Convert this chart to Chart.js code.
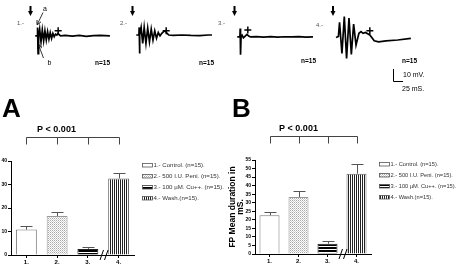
<!DOCTYPE html>
<html>
<head>
<meta charset="utf-8">
<script src="https://cdn.jsdelivr.net/npm/chart.js@4.4.1/dist/chart.umd.min.js"></script>
<style>
  html, body { margin: 0; padding: 0; background: #fff; overflow: hidden; }
  body { width: 458px; height: 267px; position: relative; }
  canvas, svg { position: absolute; }
  svg text { font-family: "Liberation Sans", Arial, sans-serif; }
</style>
</head>
<body>
<canvas id="trace1"></canvas>
<canvas id="trace2"></canvas>
<canvas id="trace3"></canvas>
<canvas id="trace4"></canvas>
<canvas id="chartA" width="228" height="149" style="left:0;top:118px"></canvas>
<canvas id="chartB" width="230" height="149" style="left:228px;top:118px"></canvas>

<svg width="458" height="267" style="left:0;top:0">
  <defs>
    <marker id="head" markerWidth="5" markerHeight="5" refX="4" refY="2.5" orient="auto" markerUnits="userSpaceOnUse">
      <path d="M0,0 L5,2.5 L0,5" fill="none" stroke="#000" stroke-width="0.8"/>
    </marker>
  </defs>
  <!-- stimulus arrows -->
  <g fill="#000">
    <polygon points="29.5,6 31.5,6 31.5,11 33,11 30.5,16 28,11 29.5,11"/>
    <polygon points="131.5,6 133.5,6 133.5,11 135,11 132.5,16 130,11 131.5,11"/>
    <polygon points="233.5,6 235.5,6 235.5,11 237,11 234.5,16 232,11 233.5,11"/>
    <polygon points="332,6 334,6 334,11 335.5,11 333,16 330.5,11 332,11"/>
  </g>
  <g font-size="6" fill="#555">
    <text x="17" y="25">1.-</text>
    <text x="120" y="25">2.-</text>
    <text x="218" y="25">3.-</text>
    <text x="316" y="27">4.-</text>
  </g>
  <text x="43" y="11" font-size="7">a</text>
  <text x="47.5" y="65" font-size="7">b</text>
  <line x1="43" y1="12.5" x2="37.5" y2="24" stroke="#000" stroke-width="0.8" marker-end="url(#head)"/>
  <line x1="43.5" y1="58" x2="38.5" y2="45" stroke="#000" stroke-width="0.8" marker-end="url(#head)"/>
  <g font-size="6.5" font-weight="bold" fill="#000">
    <text x="95" y="64.5">n=15</text>
    <text x="199" y="64.5">n=15</text>
    <text x="301" y="63">n=15</text>
    <text x="402" y="63">n=15</text>
  </g>
  <!-- scale bar -->
  <path d="M393.5,69 V81.5 H403" fill="none" stroke="#000" stroke-width="1"/>
  <text x="403" y="77" font-size="7">10 mV.</text>
  <text x="402" y="91" font-size="7">25 mS.</text>
  <text x="2" y="117" font-size="26" font-weight="bold">A</text>
  <text x="232" y="117" font-size="26" font-weight="bold">B</text>
</svg>

<script>
Chart.defaults.font.family = '"Liberation Sans", Arial, sans-serif';
Chart.defaults.animation = false;

// ---- field potential traces (ms, mV) ----
const trace1Time = [-5, 0, 1.5, 3, 4.5, 7.5, 11.3, 15, 18.8, 22.5, 26.3, 30, 33.8, 37.5, 41.3, 45, 48.8, 52.5, 56.3, 60, 63.8, 67.5, 80, 100, 120, 140, 160, 180, 207];
const trace1Volt = [0, 0, 9.1, -19.1, 0, 7.3, -6.4, 6.4, -5.5, 5.5, -4.5, 4.5, -3.6, 3.6, -2.7, 2.7, -0.9, 1.8, 0.9, 2.7, 0.9, 0, 0.5, -0.3, 0.4, -0.5, 0.2, 0.5, 0];

const trace2Time = [-5, 2.5, 3.3, 4, 5.5, 8.8, 13.3, 17.5, 22.5, 27.5, 32.5, 37.5, 42.5, 47.5, 52.5, 57.5, 62.5, 67.5, 72.5, 77.5, 82.5, 87.5, 100, 125, 150, 175, 200, 210];
const trace2Volt = [0, 0, 8.2, -20, 0, 8.2, -9.1, 8.2, -9.1, 7.3, -7.3, 6.4, -5.5, 4.5, -3.6, 2.7, -0.9, 1.8, 3.6, 4.5, 1.8, 0, -0.5, 0, -0.5, -0.6, 0, 0];

const trace3Time = [-5, 2.5, 3.3, 4.3, 5.8, 8.8, 12.5, 17.5, 22.5, 27.5, 32.5, 50, 70, 90, 110, 130, 150, 170, 190, 210];
const trace3Volt = [0, 0, 9.1, -19.1, 0, 1.8, -0.9, 0.9, 2.7, 0.9, 0, 0.3, -0.2, 0.3, -0.3, 0.2, 0, 0.3, -0.2, 0];

const trace4Time = [0, 6.8, 10, 16.8, 23.5, 30, 36.8, 43.5, 50, 56.8, 65, 71, 76.8, 83.5, 96, 108.5, 121, 141.8, 175, 212.5];
const trace4Volt = [-0.9, 0.3, 15.5, -18.2, 21.8, -23.6, 20, -19.1, 13.6, -9.1, 3.6, 5.5, 3.6, 4.5, 1.8, -4.5, -5.5, -4.5, -3.6, -1.8];

// "+" end-of-response markers, one per trace
const plusTimes = [60, 80, 25, 96];
const plusVolts = [5.5, 4.5, 7.5, 6.4];

// ---- bar data ----
const groups = ['1.', '2.', '3.', '4.'];
const legendNames = ['1.- Control. (n=15).', '2.- 500 I.U. Peni. (n=15).', '3.- 100 \u00b5M. Cu++. (n=15).', '4.- Wash.(n=15).'];
const ampMeans = [10.8, 16.6, 2.6, 32.6];
const ampErrors = [1.6, 1.6, 0.8, 2.5];
const durMeans = [22.7, 33.3, 6.0, 47.0];
const durErrors = [1.8, 3.3, 1.7, 5.6];
const pLabel = 'P < 0.001';

// ---- traces ----
const traceLeft = [32, 133, 234, 331];    // where t = 0 sits
const traceBase = [36, 35, 37.3, 37];     // baseline row
const traceData = [[trace1Time, trace1Volt], [trace2Time, trace2Volt], [trace3Time, trace3Volt], [trace4Time, trace4Volt]];
const msPerPx = 2.5, mvPerPx = 10 / 11;
const tW = 92, tH = 70;

traceData.forEach(([times, volts], i) => {
    const cv = document.getElementById('trace' + (i + 1));
    cv.width = tW; cv.height = tH;
    cv.style.left = (traceLeft[i] - 4) + 'px';
    cv.style.top = '0px';
    new Chart(cv, {
        type: 'line',
        data: {
            datasets: [{
                data: times.map((t, k) => ({ x: t, y: volts[k] })),
                borderColor: '#000',
                borderWidth: 1.7,
                pointRadius: 0,
                tension: 0
            }, {
                data: [{ x: plusTimes[i], y: plusVolts[i] }],
                showLine: false,
                pointStyle: 'cross',
                pointRadius: 3.5,
                borderColor: '#000',
                borderWidth: 1.5
            }]
        },
        options: {
            responsive: false,
            devicePixelRatio: 1,
            clip: false,
            layout: { padding: 0 },
            scales: {
                x: { type: 'linear', display: false, min: -10, max: tW * msPerPx - 10 },
                y: { display: false, min: -(tH - traceBase[i]) * mvPerPx, max: traceBase[i] * mvPerPx }
            },
            plugins: { legend: { display: false }, tooltip: { enabled: false } }
        }
    });
});

// ---- fills ----
function makePattern(kind) {
    const c = document.createElement('canvas');
    const g = c.getContext('2d');
    if (kind === 'dots') {
        c.width = 2; c.height = 2;
        g.fillStyle = '#fff'; g.fillRect(0, 0, 2, 2);
        g.fillStyle = '#a8a8a8'; g.fillRect(0, 0, 1, 1);
        g.fillStyle = '#d0d0d0'; g.fillRect(1, 1, 1, 1);
    } else if (kind === 'hstripes') {
        c.width = 1; c.height = 3;
        g.fillStyle = '#000'; g.fillRect(0, 0, 1, 2);
        g.fillStyle = '#fff'; g.fillRect(0, 2, 1, 1);
    } else {
        c.width = 2; c.height = 1;
        g.fillStyle = '#fff'; g.fillRect(0, 0, 2, 1);
        g.fillStyle = '#222'; g.fillRect(0, 0, 1, 1);
    }
    return g.createPattern(c, 'repeat');
}
const barFills = ['#fff', makePattern('dots'), makePattern('hstripes'), makePattern('vstripes')];
const barBorders = ['#777', '#999', '#222', '#666'];

// error whiskers (upper only)
const errorBars = {
    id: 'errorBars',
    afterDatasetsDraw(chart, args, opts) {
        const { ctx } = chart;
        const y = chart.scales.y;
        const meta = chart.getDatasetMeta(0);
        ctx.save();
        ctx.strokeStyle = '#555';
        ctx.lineWidth = 1;
        meta.data.forEach((bar, i) => {
            const x = Math.round(bar.x) + 0.5;
            const top = Math.round(y.getPixelForValue(opts.means[i] + opts.errors[i])) + 0.5;
            ctx.beginPath();
            ctx.moveTo(x, bar.y);
            ctx.lineTo(x, top);
            ctx.moveTo(x - 6, top);
            ctx.lineTo(x + 6, top);
            ctx.stroke();
        });
        ctx.restore();
    }
};

// significance bracket + axis break
const bracket = {
    id: 'bracket',
    afterDraw(chart) {
        const { ctx, chartArea } = chart;
        const x = chart.scales.x;
        const xs = groups.map((g, i) => Math.round(x.getPixelForValue(i)) + 0.5);
        const yLine = chartArea.top - 24 + 0.5;
        ctx.save();
        ctx.strokeStyle = '#444';
        ctx.lineWidth = 1;
        ctx.beginPath();
        ctx.moveTo(xs[0], yLine + 7);
        ctx.lineTo(xs[0], yLine);
        ctx.lineTo(xs[3], yLine);
        ctx.lineTo(xs[3], yLine + 7);
        ctx.moveTo(xs[1], yLine);
        ctx.lineTo(xs[1], yLine + 7);
        ctx.moveTo(xs[2], yLine);
        ctx.lineTo(xs[2], yLine + 7);
        ctx.stroke();
        ctx.fillStyle = '#000';
        ctx.font = 'bold 9px "Liberation Sans", Arial, sans-serif';
        ctx.textAlign = 'center';
        ctx.textBaseline = 'middle';
        ctx.fillText(pLabel, (xs[0] + xs[2]) / 2 - 1, chartArea.top - 31);
        // break marks on the x axis between groups 3 and 4
        const xb = (xs[2] + xs[3]) / 2;
        const yb = chartArea.bottom;
        ctx.strokeStyle = '#000';
        ctx.beginPath();
        ctx.moveTo(xb - 4, yb + 5); ctx.lineTo(xb - 0.5, yb - 5);
        ctx.moveTo(xb + 0.5, yb + 5); ctx.lineTo(xb + 4, yb - 5);
        ctx.stroke();
        ctx.restore();
    }
};

// key drawn in the right padding, next to the plot
const sideLegend = {
    id: 'sideLegend',
    afterDraw(chart, args, opts) {
        const { ctx, chartArea } = chart;
        const x0 = Math.round(chartArea.right + opts.gap) + 0.5;
        ctx.save();
        ctx.font = opts.size + 'px "Liberation Sans", Arial, sans-serif';
        ctx.textBaseline = 'middle';
        ctx.textAlign = 'left';
        legendNames.forEach((name, i) => {
            const y = Math.round(chartArea.top + 4 + i * 11);
            ctx.fillStyle = barFills[i];
            ctx.fillRect(x0, y - 1.5, 10, 3.5);
            ctx.strokeStyle = '#555';
            ctx.lineWidth = 0.8;
            ctx.strokeRect(x0, y - 1.5, 10, 3.5);
            ctx.fillStyle = '#333';
            ctx.fillText(name, x0 + 11, y + 0.5);
        });
        ctx.restore();
    }
};

function buildBarChart(id, means, errors, yMax, yStep, yWidth, pad, barPct, yTitle, key) {
    return new Chart(document.getElementById(id), {
        type: 'bar',
        data: {
            labels: groups,
            datasets: [{
                data: means,
                backgroundColor: barFills,
                borderColor: barBorders,
                borderWidth: 1,
                categoryPercentage: 1,
                barPercentage: barPct
            }]
        },
        options: {
            responsive: false,
            devicePixelRatio: 1,
            layout: { padding: pad },
            scales: {
                x: {
                    grid: { drawOnChartArea: false, offset: false, tickLength: 3, color: '#000' },
                    border: { color: '#000' },
                    ticks: { color: '#000', padding: 1, font: { size: 6, weight: 'bold' } },
                    afterFit(s) { s.height = 12; }
                },
                y: {
                    min: 0, max: yMax,
                    grid: { drawOnChartArea: false, tickLength: 3, color: '#000' },
                    border: { color: '#000' },
                    ticks: { stepSize: yStep, autoSkip: false, color: '#000', padding: 1, font: { size: 5, weight: 'bold' } },
                    title: {
                        display: !!yTitle, text: yTitle, color: '#000', padding: { top: 1.5, bottom: 0 },
                        font: { size: 8.5, weight: 'bold', lineHeight: 0.85 }
                    },
                    afterFit(s) { s.width = yWidth; }
                }
            },
            plugins: {
                tooltip: { enabled: false },
                legend: { display: false },
                errorBars: { means, errors },
                sideLegend: key
            }
        },
        plugins: [errorBars, bracket, sideLegend]
    });
}

buildBarChart('chartA', ampMeans, ampErrors, 40, 10, 11, { top: 43, right: 94 }, 0.68, '', { gap: 8, size: 6.1 });
buildBarChart('chartB', durMeans, durErrors, 55, 5, 27, { top: 42, right: 87, bottom: 1 }, 0.69, ['FP Mean duration in', 'mS.'], { gap: 8, size: 5.7 });
</script>
</body>
</html>
